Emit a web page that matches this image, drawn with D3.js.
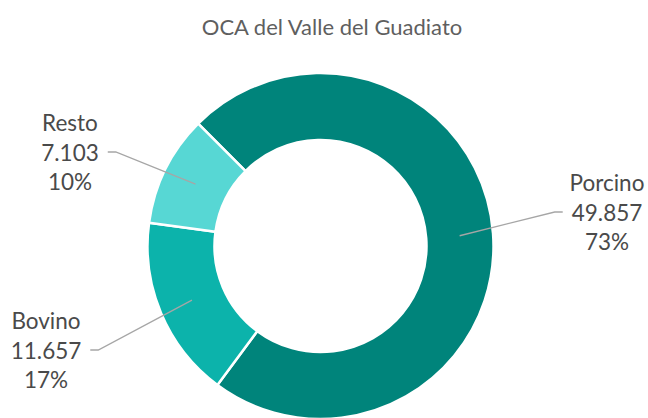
<!DOCTYPE html>
<html>
<head>
<meta charset="utf-8">
<script src="https://cdn.jsdelivr.net/npm/d3@7"></script>
<style>
  html, body { margin: 0; padding: 0; background: #fff; }
  svg { display: block; }
  text { font-family: Lato, "Open Sans", sans-serif; }
</style>
</head>
<body>
<svg id="chart" width="648" height="418"></svg>
<script>
// Cabezas de ganado por especie
const categories = ["Porcino", "Bovino", "Resto"];
const values = [49857, 11657, 7103];
const percentLabels = ["73%", "17%", "10%"];
const colors = ["#00847b", "#0cb3ab", "#57d7d4"];
const title = "OCA del Valle del Guadiato";

// Label block placement (center of the value row) for each category
const labelAnchors = [
  { x: 607, y: 212, side: "right" },
  { x: 46, y: 350, side: "left" },
  { x: 70, y: 152, side: "left" }
];

const W = 648, H = 418;
const cx = 320.5, cy = 246;
const outerR = 173, innerR = 106;
const lineGap = 29.5;

const svg = d3.select("#chart");

svg.append("text")
  .attr("x", 332)
  .attr("y", 26)
  .attr("text-anchor", "middle")
  .attr("dominant-baseline", "central")
  .attr("fill", "#5f5f5f")
  .attr("font-size", 22)
  .text(title);

const data = categories.map((c, i) => ({ name: c, value: values[i], pct: percentLabels[i], color: colors[i], anchor: labelAnchors[i] }));

const pie = d3.pie()
  .sort(null)
  .value(d => d.value)
  .startAngle(-Math.PI / 4)
  .endAngle(2 * Math.PI - Math.PI / 4);

const arc = d3.arc().innerRadius(innerR).outerRadius(outerR);
const midArc = d3.arc().innerRadius((innerR + outerR) / 2).outerRadius((innerR + outerR) / 2);

const g = svg.append("g").attr("transform", `translate(${cx},${cy})`);
const arcs = pie(data);

g.selectAll("path.slice")
  .data(arcs)
  .join("path")
  .attr("class", "slice")
  .attr("d", arc)
  .attr("fill", d => d.data.color)
  .attr("stroke", "#fff")
  .attr("stroke-width", 2.5)
  .attr("stroke-linejoin", "round");

const fmt = d3.formatLocale({ decimal: ",", thousands: ".", grouping: [3], currency: ["", " €"] }).format(",d");

// Labels: name / value / percentage
const labels = svg.selectAll("g.label")
  .data(arcs)
  .join("g")
  .attr("class", "label");

labels.each(function(d) {
  const a = d.data.anchor;
  const gl = d3.select(this);
  const rows = [d.data.name, fmt(d.data.value), d.data.pct];
  rows.forEach((t, k) => {
    gl.append("text")
      .attr("x", a.x)
      .attr("y", a.y + (k - 1) * lineGap)
      .attr("text-anchor", "middle")
      .attr("dominant-baseline", "central")
      .attr("fill", "#4a4a4a")
      .attr("font-size", 22.5)
      .text(t);
  });
});

// Leader lines from the middle of each slice to its label
labels.each(function(d) {
  const a = d.data.anchor;
  const valueText = d3.select(this).selectAll("text").nodes()[1];
  const half = valueText.getComputedTextLength() / 2;
  const dir = a.side === "right" ? -1 : 1;
  const end = [a.x + dir * (half + 9), a.y];
  const elbow = [end[0] + dir * 8, a.y];
  const c = midArc.centroid(d);
  const start = [cx + c[0], cy + c[1]];
  svg.insert("path", "g.label")
    .attr("d", d3.line()([start, elbow, end]))
    .attr("fill", "none")
    .attr("stroke", "#a6a6a6")
    .attr("stroke-width", 1.3);
});
</script>
</body>
</html>
